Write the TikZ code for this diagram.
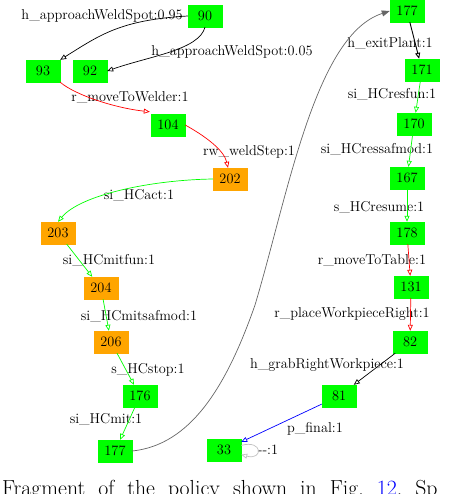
\documentclass[tikz,border=0pt]{standalone}
\usepackage{xcolor}
\usepackage{tikz}
\usetikzlibrary{arrows.meta}
\definecolor{stateGreen}{HTML}{00FF00}
\definecolor{holdOrange}{HTML}{FFA500}
\definecolor{jumpGray}{HTML}{666666}
\definecolor{loopGray}{HTML}{C0C0C0}

\begin{document}
\begin{tikzpicture}[
  x=1pt,y=-1pt,
  font=\fontsize{14.3}{16}\selectfont,
  box/.style={rectangle,draw=stateGreen,fill=stateGreen,minimum width=34pt,minimum height=22pt,inner sep=0pt},
  holdbox/.style={box,draw=holdOrange,fill=holdOrange},
  lbl/.style={anchor=base,inner sep=0pt},
  arrow/.style={-{Triangle[open,length=6pt,width=5pt]},line width=0.7pt},
  jump/.style={-{Triangle[length=8pt,width=6pt]},line width=0.7pt,color=jumpGray}
]
\useasboundingbox (0,0) rectangle (468,494);
\clip (0,0) rectangle (468,494);
% states, left column
\node[box] (n90) at (205,16) {90};
\node[box] (n93) at (43,71) {93};
\node[box] (n92) at (90,71) {92};
\node[box] (n104) at (168,125) {104};
\node[holdbox] (n202) at (230,179) {202};
\node[holdbox] (n203) at (58,233) {203};
\node[holdbox] (n204) at (101,288) {204};
\node[holdbox] (n206) at (111,342) {206};
\node[box] (n176) at (140,396) {176};
\node[box] (n177a) at (115,451) {177};
% states, right column
\node[box] (n177b) at (407,11) {177};
\node[box] (n171) at (422,70) {171};
\node[box] (n170) at (414,124) {170};
\node[box] (n167) at (407,178) {167};
\node[box] (n178) at (407,233) {178};
\node[box] (n131) at (411,287) {131};
\node[box] (n82) at (410,342) {82};
\node[box] (n81) at (339,396) {81};
\node[box] (n33) at (224,450) {33};
% edge labels
\node[lbl] (l1) at (102,20) {h\_approachWeldSpot:0.95};
\node[lbl] (l2) at (232,56) {h\_approachWeldSpot:0.05};
\node[lbl] (l3) at (130,102) {r\_moveToWelder:1};
\node[lbl] (l4) at (249,156) {rw\_weldStep:1};
\node[lbl] (l5) at (139,200) {si\_HCact:1};
\node[lbl] (l6) at (109,264) {si\_HCmitfun:1};
\node[lbl] (l7) at (139,320) {si\_HCmitsafmod:1};
\node[lbl] (l8) at (148,373) {s\_HCstop:1};
\node[lbl] (l9) at (106,423) {si\_HCmit:1};
\node[lbl] (l10) at (390,48) {h\_exitPlant:1};
\node[lbl] (l11) at (392,99) {si\_HCresfun:1};
\node[lbl] (l12) at (377,154) {si\_HCressafmod:1};
\node[lbl] (l13) at (379,211) {s\_HCresume:1};
\node[lbl] (l14) at (372,264) {r\_moveToTable:1};
\node[lbl] (l15) at (352,317) {r\_placeWorkpieceRight:1};
\node[lbl] (l16) at (327,368) {h\_grabRightWorkpiece:1};
\node[lbl] (l17) at (315,432) {p\_final:1};
\node[lbl] (l18) at (268,454) {-{}-:1};
% transitions
\draw[arrow] (n90.west) .. controls (120,20) and (100,35) .. (n93.north east);
\draw[arrow] (n90.south) .. controls (199,50) and (150,56) .. (n92.east);
\draw[arrow,color=red] (n93.south east) .. controls (75,95) and (115,108) .. ([xshift=-1pt,yshift=2pt]n104.north west);
\draw[arrow,color=red] (n104.east) .. controls (205,136) and (224,150) .. ([xshift=-2pt]n202.north);
\draw[arrow,color=stateGreen] (n202.west) .. controls (150,180) and (80,195) .. (n203.north);
\draw[arrow,color=stateGreen] (n203) -- (n204);
\draw[arrow,color=stateGreen] (n204) -- (n206);
\draw[arrow,color=stateGreen] (n206) -- (n176);
\draw[arrow,color=stateGreen] (n176) -- (n177a);
\draw[jump] (n177a.east) .. controls (190,445) and (226,388) .. (255,305)
  .. controls (288,195) and (315,35) .. (n177b.west);
\draw[arrow,color=black,line width=0.9pt] (n177b) -- (n171);
\draw[arrow,color=stateGreen] (n171) -- (n170);
\draw[arrow,color=stateGreen] (n170) -- (n167);
\draw[arrow,color=stateGreen] (n167) -- (n178);
\draw[arrow,color=red] (n178) -- (n131);
\draw[arrow,color=red] (n131) -- (n82);
\draw[arrow] (n82) -- (n81);
\draw[arrow,color=blue] (n81) -- (n33);
\draw[arrow,color=loopGray] (n33.15) .. controls +(22,-6) and +(22,6) .. (n33.-15);
% caption, cut off by the page
\node[anchor=base west,inner sep=0pt,font=\fontsize{21.8}{26}\selectfont] (caption) at (2,495)
  {\spaceskip=13pt\xspaceskip=13pt Fragment of the policy shown in Fig. {\color{blue}12}. Sp};
\end{tikzpicture}
\end{document}
